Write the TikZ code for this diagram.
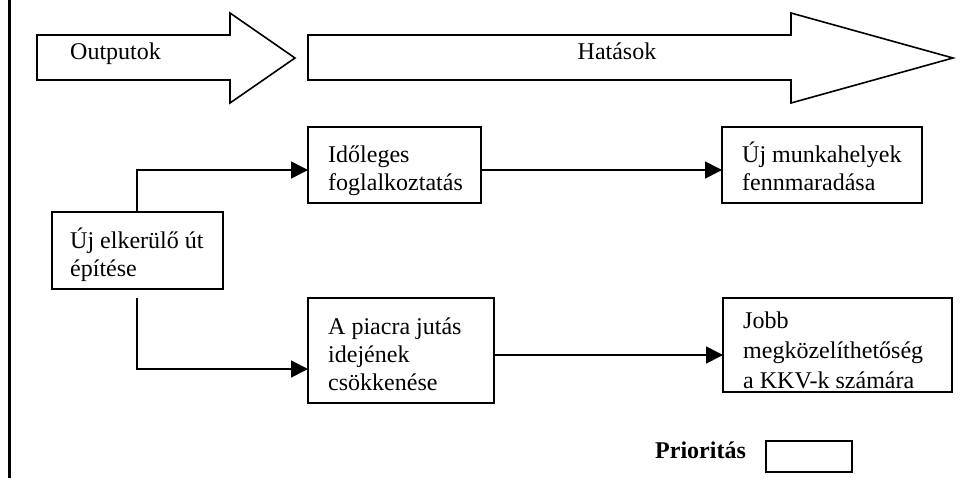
\documentclass[tikz,border=0pt]{standalone}
\usepackage{fontspec}
\setmainfont{Liberation Serif}
\usetikzlibrary{arrows.meta,calc}
\begin{document}
\begin{tikzpicture}[x=1pt,y=-1pt,
  box/.style={draw,line width=1.6pt,anchor=north west,inner sep=0pt,outer sep=0pt},
  conn/.style={line width=1.6pt,-{Triangle[length=17pt,width=17pt]}},
  blockarrow/.style={draw,line width=1.6pt,line join=miter},
  txt/.style={inner sep=0pt,font=\fontsize{24}{28}\selectfont},
  lbl/.style={txt,anchor=base west}]
\useasboundingbox (0,0) rectangle (968,479);

% left frame line
\draw[line width=3pt] (9,0) -- (9,478);

% block arrows
\draw[blockarrow] (37,35) -- (230,35) -- (230,13) -- (295,58) -- (230,103) -- (230,80) -- (37,80) -- cycle;
\draw[blockarrow] (308,35) -- (791,35) -- (791,13) -- (953,58) -- (791,103) -- (791,80) -- (308,80) -- cycle;
\node[lbl] (outp) at (70,59) {Outputok};
\node[txt,anchor=base] (hat) at (617,59) {Hatások};

% boxes
\node[box,minimum width=171pt,minimum height=77pt] (new) at (52,212) {};
\node[box,minimum width=173pt,minimum height=76pt] (ido) at (308,127) {};
\node[box,minimum width=200pt,minimum height=76pt] (munka) at (722,127) {};
\node[box,minimum width=186pt,minimum height=105pt] (piac) at (308,298) {};
\node[box,minimum width=229pt,minimum height=94pt] (jobb) at (723,298) {};
\node[box,minimum width=86pt,minimum height=31pt] (prio) at (766,441) {};

% texts
\node[lbl] (tnew) at ($(new.north west)+(18,36)$) {\parbox[t]{160pt}{Új elkerülő út\\építése}};
\node[lbl] (tido) at ($(ido.north west)+(20,35)$) {\parbox[t]{160pt}{Időleges\\foglalkoztatás}};
\node[lbl] (tmunka) at ($(munka.north west)+(20,35)$) {\parbox[t]{190pt}{Új munkahelyek\\fennmaradása}};
\node[lbl] (tpiac) at ($(piac.north west)+(20,36)$) {\parbox[t]{170pt}{A piacra jutás\\idejének\\csökkenése}};
\node[lbl] (tjobb) at ($(jobb.north west)+(20,30)$) {\parbox[t]{210pt}{\fontsize{24}{30}\selectfont Jobb\\megközelíthetőség\\a KKV-k számára}};
\node[lbl,font=\fontsize{24}{28}\selectfont\bfseries] (tprio) at (655,458) {Prioritás};

% connectors
\draw[conn] ($(new.north west)+(85,0)$) |- ($(ido.north west)+(0,43)$);
\draw[conn] ($(new.south west)+(85,9)$) |- ($(piac.north west)+(0,71)$);
\draw[conn] ($(ido.north east)+(0,43)$) -- ($(munka.north west)+(0,43)$);
\draw[conn] ($(piac.north east)+(0,57)$) -- ($(jobb.north west)+(0,57)$);
\end{tikzpicture}
\end{document}
